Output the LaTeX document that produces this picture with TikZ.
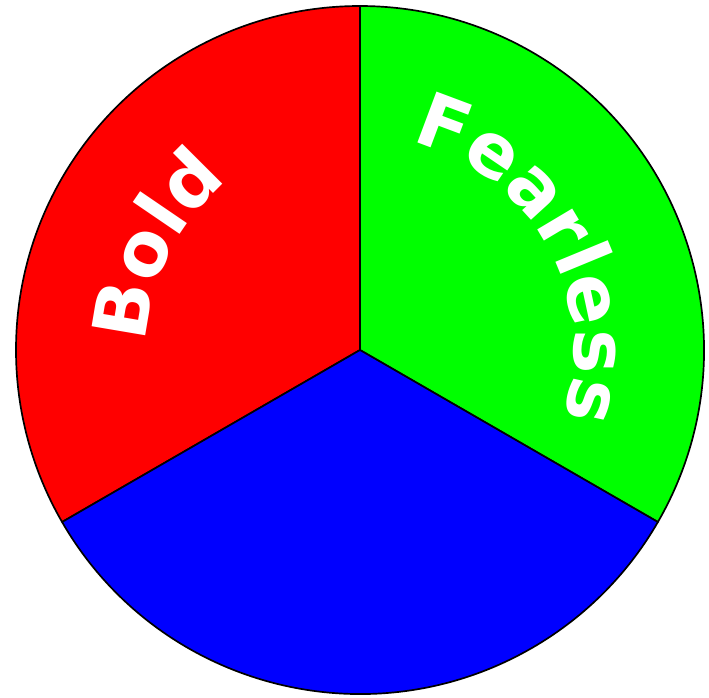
\documentclass[tikz,border=0pt]{standalone}
\usepackage{fontspec}
\newfontfamily\wheelfont{DejaVu Sans}[BoldFont={DejaVu Sans Bold}]
\definecolor{boldRed}{RGB}{255,0,0}
\definecolor{fearGreen}{RGB}{0,255,0}
\definecolor{restBlue}{RGB}{0,0,255}
\usetikzlibrary{decorations.text}

\begin{document}
\begin{tikzpicture}[
        sector/.style={draw=black, line width=1.2pt, line join=round},
        arclabel/.style={decorate, decoration={text along path, text align=center,
            text color=white, text={|\wheelfont\bfseries\fontsize{53}{60}\selectfont|#1}}}
      ]
        \useasboundingbox (-9.0,-8.675) rectangle (8.725,8.75);
        \coordinate (c) at (0,0);
        % Three sectors of the wheel
        \filldraw[sector, fill=boldRed] (c) -- (90:8.6) arc[start angle=90, end angle=210, radius=8.6] -- cycle;
        \filldraw[sector, fill=fearGreen] (c) -- (-30:8.6) arc[start angle=-30, end angle=90, radius=8.6] -- cycle;
        \filldraw[sector, fill=restBlue] (c) -- (210:8.6) arc[start angle=210, end angle=330, radius=8.6] -- cycle;
        % Curved labels
        \path[arclabel=Bold] (213:5.35) arc[start angle=213, end angle=93, radius=5.35];
        \path[arclabel=Fearless] (89:5.35) arc[start angle=89, end angle=-31, radius=5.35];
      \end{tikzpicture}
\end{document}
